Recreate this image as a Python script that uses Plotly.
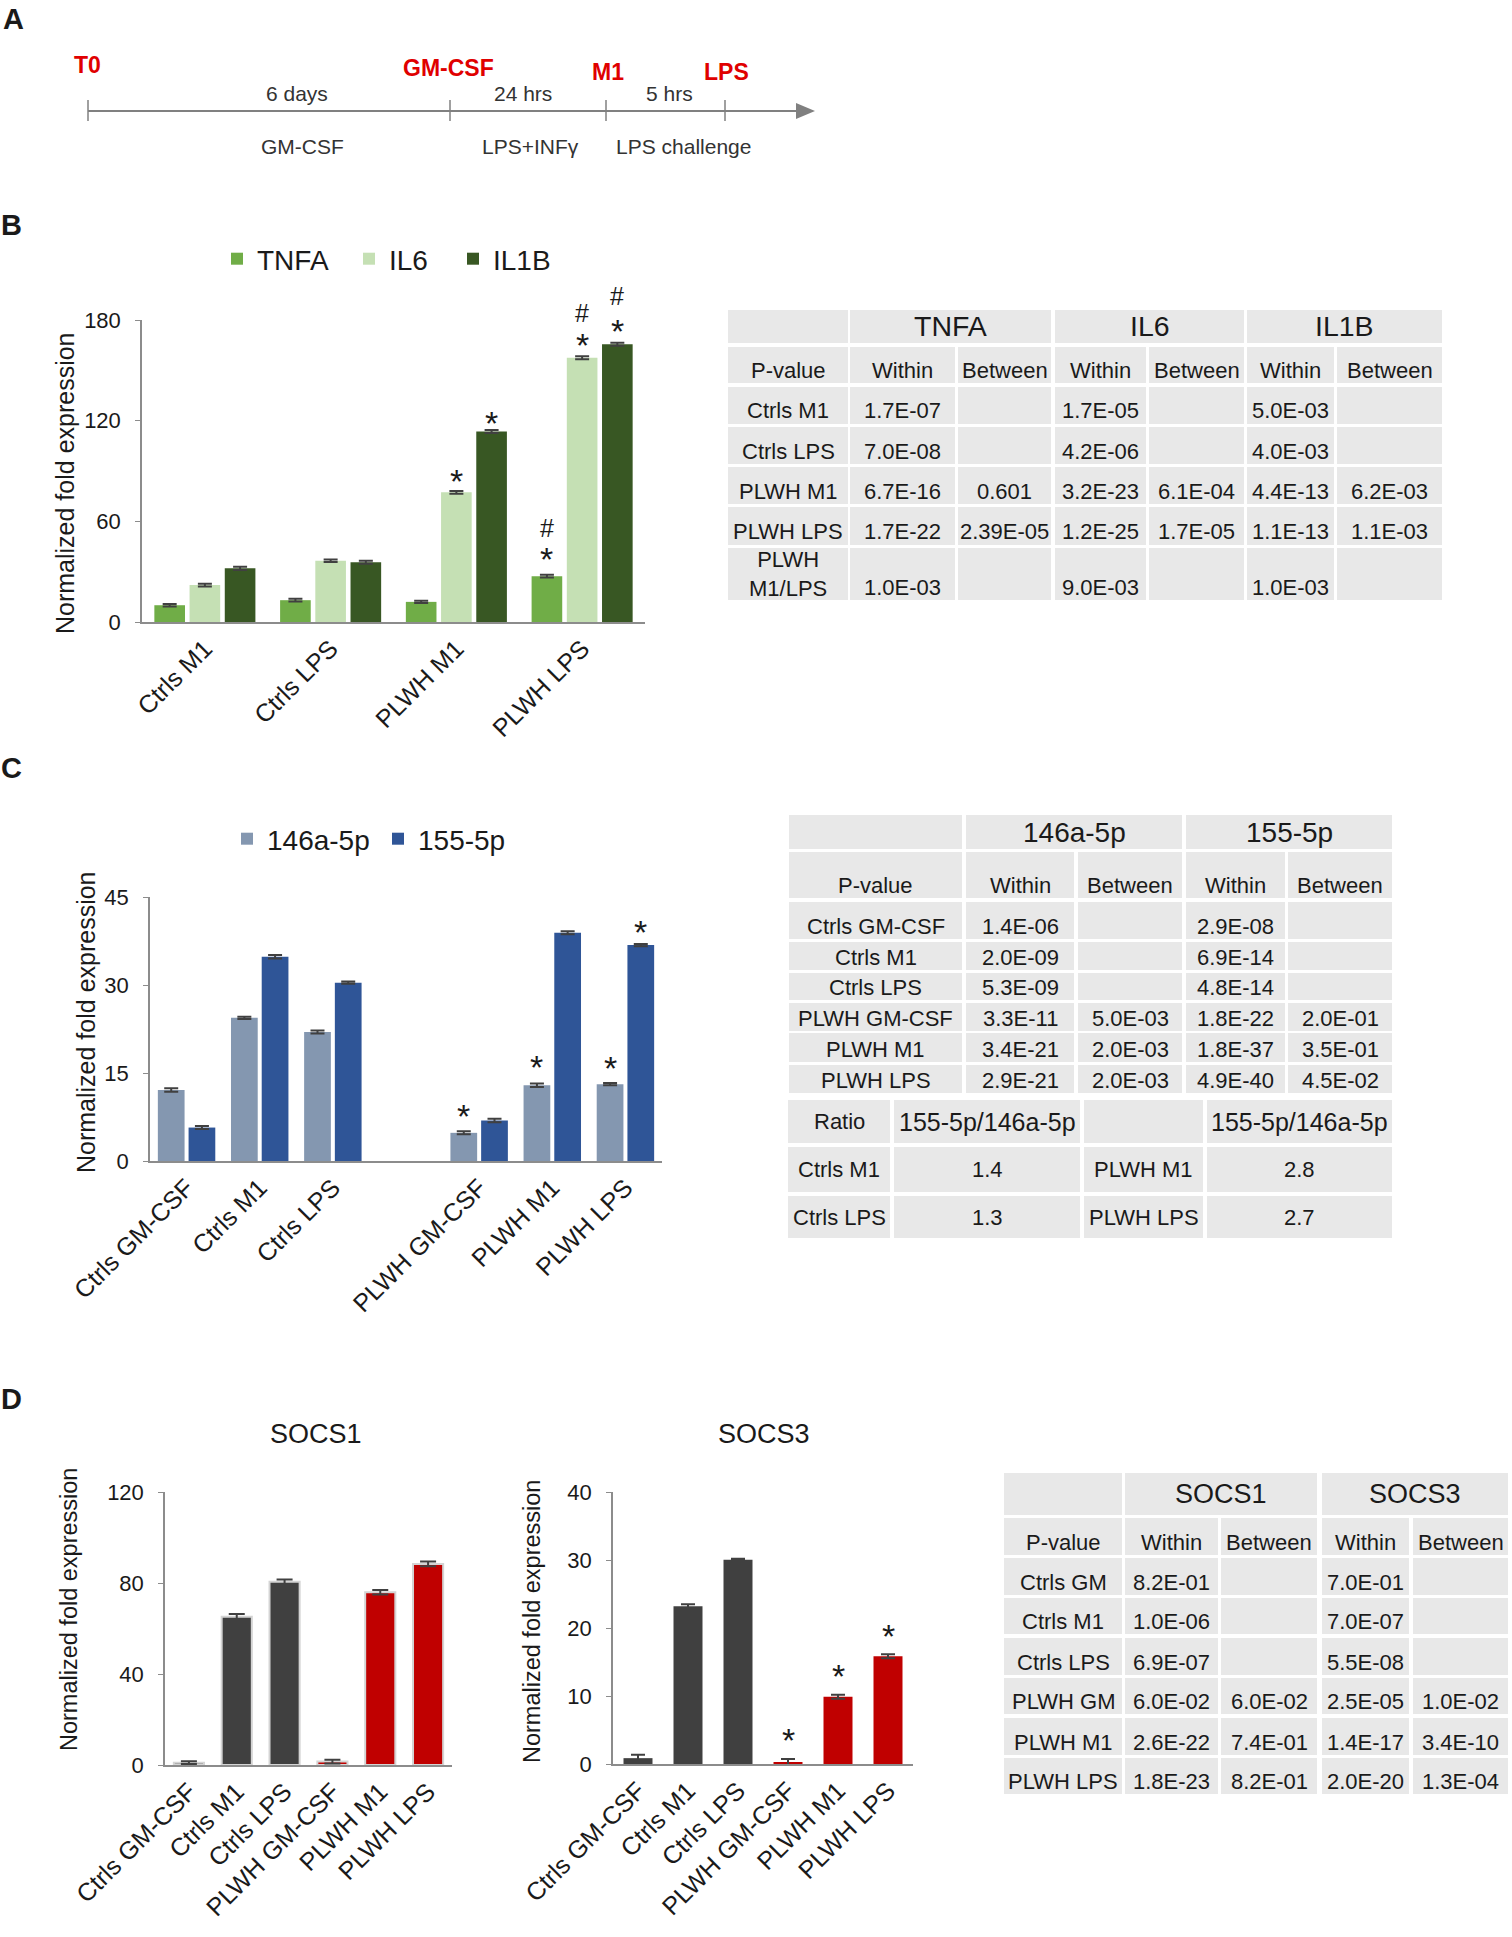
import plotly.graph_objects as go

W, H = 1512, 1937
FONT = "Liberation Sans, Arial, sans-serif"
TXT = "#1a1a1a"
AXC = "#8c8c8c"
CELL = "#e8e8e8"
ERR = "#404040"
RED = "#e00000"

def px(x):
    return x / W

def py(y):
    return 1 - y / H

# ---------------- data ----------------
# A: timeline
tl_events = ["T0", "GM-CSF", "M1", "LPS"]
tl_above = ["6 days", "24 hrs", "5 hrs"]
tl_below = ["GM-CSF", "LPS+INFγ", "LPS challenge"]

# B: cytokine expression
b_cats = ["Ctrls M1", "Ctrls LPS", "PLWH M1", "PLWH LPS"]
b_names = ["TNFA", "IL6", "IL1B"]
b_tnfa = [10.0, 13.0, 12.0, 27.3]
b_il6 = [22.0, 36.5, 77.3, 157.5]
b_il1b = [32.0, 35.6, 113.5, 165.5]
b_tnfa_err = [0.8, 0.8, 0.7, 0.8]
b_il6_err = [0.8, 0.8, 0.8, 0.9]
b_il1b_err = [1.0, 0.9, 0.9, 0.9]
b_marks = [("PLWH M1", 1, "*", 86.7), ("PLWH M1", 2, "*", 121.0),
           ("PLWH LPS", 0, "*", 40.1), ("PLWH LPS", 0, "#", 56.2),
           ("PLWH LPS", 1, "*", 167.5), ("PLWH LPS", 1, "#", 184.0),
           ("PLWH LPS", 2, "*", 176.0), ("PLWH LPS", 2, "#", 194.6)]

b_head = ["TNFA", "IL6", "IL1B"]
b_sub = ["P-value", "Within", "Between", "Within", "Between", "Within", "Between"]
b_rows = [
    ["Ctrls M1", "1.7E-07", "", "1.7E-05", "", "5.0E-03", ""],
    ["Ctrls LPS", "7.0E-08", "", "4.2E-06", "", "4.0E-03", ""],
    ["PLWH M1", "6.7E-16", "0.601", "3.2E-23", "6.1E-04", "4.4E-13", "6.2E-03"],
    ["PLWH LPS", "1.7E-22", "2.39E-05", "1.2E-25", "1.7E-05", "1.1E-13", "1.1E-03"],
    ["PLWH<br>M1/LPS", "1.0E-03", "", "9.0E-03", "", "1.0E-03", ""],
]

# C: miRNA expression
c_cats = ["Ctrls GM-CSF", "Ctrls M1", "Ctrls LPS", " ", "PLWH GM-CSF", "PLWH M1", "PLWH LPS"]
c_names = ["146a-5p", "155-5p"]
c_146 = [12.1, 24.4, 22.0, None, 4.8, 12.9, 13.1]
c_155 = [5.7, 34.8, 30.4, None, 6.9, 38.9, 36.8]
c_146_err = [0.3, 0.2, 0.25, None, 0.25, 0.3, 0.2]
c_155_err = [0.25, 0.3, 0.2, None, 0.3, 0.25, 0.2]
c_marks = [("PLWH GM-CSF", 0, "*", 8.3), ("PLWH M1", 0, "*", 16.8),
           ("PLWH LPS", 0, "*", 16.6), ("PLWH LPS", 1, "*", 39.8)]

c_head = ["146a-5p", "155-5p"]
c_sub = ["P-value", "Within", "Between", "Within", "Between"]
c_rows = [
    ["Ctrls GM-CSF", "1.4E-06", "", "2.9E-08", ""],
    ["Ctrls M1", "2.0E-09", "", "6.9E-14", ""],
    ["Ctrls LPS", "5.3E-09", "", "4.8E-14", ""],
    ["PLWH GM-CSF", "3.3E-11", "5.0E-03", "1.8E-22", "2.0E-01"],
    ["PLWH M1", "3.4E-21", "2.0E-03", "1.8E-37", "3.5E-01"],
    ["PLWH LPS", "2.9E-21", "2.0E-03", "4.9E-40", "4.5E-02"],
]
c_ratio_head = ["Ratio", "155-5p/146a-5p", "", "155-5p/146a-5p"]
c_ratio_rows = [
    ["Ctrls M1", "1.4", "PLWH M1", "2.8"],
    ["Ctrls LPS", "1.3", "PLWH LPS", "2.7"],
]

# D: SOCS1 / SOCS3
d_cats = ["Ctrls GM-CSF", "Ctrls M1", "Ctrls LPS", "PLWH GM-CSF", "PLWH M1", "PLWH LPS"]
d_colors = ["#404040", "#404040", "#404040", "#c00000", "#c00000", "#c00000"]
socs1 = [1.0, 65.2, 80.5, 1.5, 75.9, 88.4]
socs1_err = [0.6, 1.2, 1.0, 0.8, 1.0, 1.0]
socs3 = [0.86, 23.2, 30.05, 0.25, 9.9, 15.85]
socs3_err = [0.5, 0.3, 0.15, 0.5, 0.3, 0.3]
socs3_marks = [("PLWH GM-CSF", "*", 4.2), ("PLWH M1", "*", 13.5), ("PLWH LPS", "*", 19.4)]

d_head = ["SOCS1", "SOCS3"]
d_sub = ["P-value", "Within", "Between", "Within", "Between"]
d_rows = [
    ["Ctrls GM", "8.2E-01", "", "7.0E-01", ""],
    ["Ctrls M1", "1.0E-06", "", "7.0E-07", ""],
    ["Ctrls LPS", "6.9E-07", "", "5.5E-08", ""],
    ["PLWH GM", "6.0E-02", "6.0E-02", "2.5E-05", "1.0E-02"],
    ["PLWH M1", "2.6E-22", "7.4E-01", "1.4E-17", "3.4E-10"],
    ["PLWH LPS", "1.8E-23", "8.2E-01", "2.0E-20", "1.3E-04"],
]

# ---------------- layout geometry (pixels) ----------------
BARGAP, GROUPGAP = 0.16, 0.13
B_X, B_Y, B_MAX = (142, 645), (320, 622), 180
C_X, C_Y, C_MAX = (150, 662), (897, 1161), 45
S1_X, S1_Y = (165, 452), (1492, 1765)
S3_X, S3_Y, S3_MAX = (613, 913), (1492, 1764), 40

TL_Y = 111
TL_TICKS = [88, 450, 606, 725]
TL_EVENT_POS = [(87, 65), (448, 68), (608, 72), (726, 72)]
TL_ABOVE_POS = [(297, 93), (523, 93), (669, 93)]
TL_BELOW_POS = [(302, 147), (530, 147), (683, 147)]

# legend anchor x for every series (B, then C)
B_LEG_X, B_LEG_Y = [217, 349, 453], 259
C_LEG_X, C_LEG_Y = [227, 378], 839

B_COLS = [(728, 848), (850, 955), (958, 1051), (1055, 1146), (1149, 1244), (1247, 1334), (1337, 1442)]
B_ROWS = [(310, 343), (347, 383), (387, 424), (427, 464), (467, 504), (507, 545), (548, 600)]
C_COLS = [(789, 962), (966, 1074), (1078, 1182), (1186, 1285), (1288, 1392)]
C_ROWS = [(815, 849), (852, 898), (902, 939), (942, 970), (973, 1000), (1003, 1031), (1033, 1062), (1065, 1093)]
C_RCOLS = [(788, 890), (894, 1080), (1084, 1203), (1207, 1392)]
C_RROWS = [(1100, 1143), (1147, 1192), (1196, 1238)]
D_COLS = [(1004, 1122), (1125, 1218), (1221, 1317), (1322, 1409), (1413, 1508)]
D_ROWS = [(1473, 1515), (1518, 1555), (1558, 1595), (1598, 1634), (1638, 1675), (1678, 1714), (1718, 1755), (1758, 1794)]

shapes = []
annotations = []


def text(x, y, s, size, color=TXT, bold=False, angle=0):
    annotations.append(dict(xref="paper", yref="paper", x=px(x), y=py(y),
                            text="<b>%s</b>" % s if bold else s, showarrow=False,
                            textangle=angle, xanchor="center", yanchor="middle",
                            font=dict(size=size, color=color, family=FONT)))


def cell(x0, x1, y0, y1, s, size, centered=False):
    shapes.append(dict(type="rect", xref="paper", yref="paper", x0=px(x0), x1=px(x1),
                       y0=py(y1), y1=py(y0), fillcolor=CELL, line_width=0, layer="below"))
    if s:
        ty = (y0 + y1) / 2 if (centered or "<br>" in s) else y1 - 13
        text((x0 + x1) / 2, ty, s, size)


def pvalue_table(cols, rows, head, sub, body, hsize, bsize):
    y0, y1 = rows[0]
    cell(cols[0][0], cols[0][1], y0, y1, "", hsize)
    for k, name in enumerate(head):
        cell(cols[1 + 2 * k][0], cols[2 + 2 * k][1], y0, y1, name, hsize, centered=True)
    for c, s in enumerate(sub):
        cell(cols[c][0], cols[c][1], rows[1][0], rows[1][1], s, bsize)
    for r, row in enumerate(body):
        for c, s in enumerate(row):
            cell(cols[c][0], cols[c][1], rows[r + 2][0], rows[r + 2][1], s, bsize)


def mark(xr, yr, cat, yv, sym, xshift, ymax, ydom):
    # marks above the axis range are pinned to the top and shifted up in pixels
    ppu = (ydom[1] - ydom[0]) / ymax
    size = 34 if sym == "*" else 25
    base = -0.12 * size if sym == "*" else 0
    yy = min(yv, ymax)
    annotations.append(dict(xref=xr, yref=yr, x=cat, y=yy, text=sym, showarrow=False,
                            xshift=xshift, yshift=base + (yv - yy) * ppu,
                            font=dict(size=size, color=TXT, family=FONT)))


# ---------------- A: timeline ----------------
text(13, 19, "A", 29, bold=True)
shapes.append(dict(type="line", xref="paper", yref="paper", x0=px(TL_TICKS[0]), x1=px(800),
                   y0=py(TL_Y), y1=py(TL_Y), line=dict(color="#808080", width=2)))
for t in TL_TICKS:
    shapes.append(dict(type="line", xref="paper", yref="paper", x0=px(t), x1=px(t),
                       y0=py(TL_Y - 11), y1=py(TL_Y + 10), line=dict(color="#808080", width=1.5)))
shapes.append(dict(type="path", xref="paper", yref="paper",
                   path="M %f,%f L %f,%f L %f,%f Z" % (px(796), py(TL_Y - 8), px(815), py(TL_Y),
                                                        px(796), py(TL_Y + 8)),
                   fillcolor="#808080", line_width=0))
for s, (x, y) in zip(tl_events, TL_EVENT_POS):
    text(x, y, s, 23, color=RED, bold=True)
for s, (x, y) in zip(tl_above, TL_ABOVE_POS):
    text(x, y, s, 21, color="#333333")
for s, (x, y) in zip(tl_below, TL_BELOW_POS):
    text(x, y, s, 21, color="#333333")

# ---------------- figure ----------------
fig = go.Figure()

b_colors = ["#70ad47", "#c5e0b4", "#385723"]
b_legends = ["legend", "legend3", "legend4"]
for name, vals, errs, col, lg in zip(b_names, [b_tnfa, b_il6, b_il1b],
                                     [b_tnfa_err, b_il6_err, b_il1b_err], b_colors, b_legends):
    fig.add_trace(go.Bar(x=b_cats, y=vals, name=name, marker=dict(color=col, line_width=0),
                         error_y=dict(type="data", array=errs, color=ERR, thickness=2, width=7),
                         xaxis="x", yaxis="y", legend=lg))

c_colors = ["#8497b0", "#2f5597"]
c_legends = ["legend2", "legend5"]
for name, vals, errs, col, lg in zip(c_names, [c_146, c_155], [c_146_err, c_155_err],
                                     c_colors, c_legends):
    fig.add_trace(go.Bar(x=c_cats, y=vals, name=name, marker=dict(color=col, line_width=0),
                         error_y=dict(type="data", array=errs, color=ERR, thickness=2, width=7),
                         xaxis="x2", yaxis="y2", legend=lg))

fig.add_trace(go.Bar(x=d_cats, y=socs1, width=0.63, showlegend=False,
                     marker=dict(color=d_colors, line=dict(color="#d4d4d4", width=2)),
                     error_y=dict(type="data", array=socs1_err, color=ERR, thickness=2, width=8),
                     xaxis="x3", yaxis="y3"))
fig.add_trace(go.Bar(x=d_cats, y=socs3, width=0.58, showlegend=False,
                     marker=dict(color=d_colors, line_width=0),
                     error_y=dict(type="data", array=socs3_err, color=ERR, thickness=2, width=7),
                     xaxis="x4", yaxis="y4"))

# significance marks
b_slot = (B_X[1] - B_X[0]) / len(b_cats) * (1 - BARGAP) / 3
for cat, i, sym, yv in b_marks:
    mark("x", "y", cat, yv, sym, (i - 1) * b_slot, B_MAX, B_Y)
c_slot = (C_X[1] - C_X[0]) / len(c_cats) * (1 - BARGAP) / 2
for cat, i, sym, yv in c_marks:
    mark("x2", "y2", cat, yv, sym, (i - 0.5) * c_slot, C_MAX, C_Y)
for cat, sym, yv in socs3_marks:
    mark("x4", "y4", cat, yv, sym, 0, S3_MAX, S3_Y)

# panel letters, titles, axis titles
text(11, 225, "B", 29, bold=True)
text(11, 768, "C", 29, bold=True)
text(11, 1399, "D", 29, bold=True)
text(316, 1434, "SOCS1", 27)
text(764, 1434, "SOCS3", 27)
text(65, 483, "Normalized fold expression", 25, angle=-90)
text(86, 1022, "Normalized fold expression", 25, angle=-90)
text(69, 1610, "Normalized fold expression", 23.5, angle=-90)
text(532, 1622, "Normalized fold expression", 23.5, angle=-90)

# tables
pvalue_table(B_COLS, B_ROWS, b_head, b_sub, b_rows, 28.5, 22)
pvalue_table(C_COLS, C_ROWS, c_head, c_sub, c_rows, 28, 22)
for c, s in enumerate(c_ratio_head):
    cell(C_RCOLS[c][0], C_RCOLS[c][1], C_RROWS[0][0], C_RROWS[0][1], s,
         25 if "/" in s else 22, centered=True)
for r, row in enumerate(c_ratio_rows):
    for c, s in enumerate(row):
        cell(C_RCOLS[c][0], C_RCOLS[c][1], C_RROWS[r + 1][0], C_RROWS[r + 1][1], s, 22, centered=True)
pvalue_table(D_COLS, D_ROWS, d_head, d_sub, d_rows, 27, 22)


def xax(dom, cats, anchor):
    return dict(domain=[px(dom[0]), px(dom[1])], anchor=anchor, type="category",
                categoryorder="array", categoryarray=cats, showline=True, linecolor=AXC,
                linewidth=2, ticks="", tickangle=-45, tickfont=dict(size=25, color=TXT),
                showgrid=False, zeroline=False, automargin=False, fixedrange=True)


def yax(dom, rng, tv, anchor):
    return dict(domain=[py(dom[1]), py(dom[0])], anchor=anchor, range=rng, tickvals=tv,
                showline=True, linecolor=AXC, linewidth=1.5, ticks="outside", ticklen=5,
                tickcolor=AXC, tickfont=dict(size=22, color=TXT), ticklabelstandoff=10,
                showgrid=False, zeroline=False, automargin=False, fixedrange=True)


def leg(x, y):
    return dict(orientation="h", xanchor="left", yanchor="middle", x=px(x), y=py(y),
                font=dict(size=28, color=TXT), bgcolor="rgba(0,0,0,0)")


fig.update_layout(
    width=W, height=H, autosize=False,
    margin=dict(l=0, r=0, t=0, b=0, pad=0),
    paper_bgcolor="white", plot_bgcolor="white",
    font=dict(family=FONT, color=TXT),
    barmode="group", bargap=BARGAP, bargroupgap=GROUPGAP,
    xaxis=xax(B_X, b_cats, "y"), yaxis=yax(B_Y, [0, B_MAX], [0, 60, 120, 180], "x"),
    xaxis2=xax(C_X, c_cats, "y2"), yaxis2=yax(C_Y, [0, C_MAX], [0, 15, 30, 45], "x2"),
    xaxis3=xax(S1_X, d_cats, "y3"), yaxis3=yax(S1_Y, [0, 120], [0, 40, 80, 120], "x3"),
    xaxis4=xax(S3_X, d_cats, "y4"), yaxis4=yax(S3_Y, [0, S3_MAX], [0, 10, 20, 30, 40], "x4"),
    legend=leg(B_LEG_X[0], B_LEG_Y), legend3=leg(B_LEG_X[1], B_LEG_Y),
    legend4=leg(B_LEG_X[2], B_LEG_Y),
    legend2=leg(C_LEG_X[0], C_LEG_Y), legend5=leg(C_LEG_X[1], C_LEG_Y),
    shapes=shapes, annotations=annotations,
)

fig.write_html("out.html", config={"displayModeBar": False},
               post_script="document.body.style.margin='0';document.body.style.overflow='hidden';")
